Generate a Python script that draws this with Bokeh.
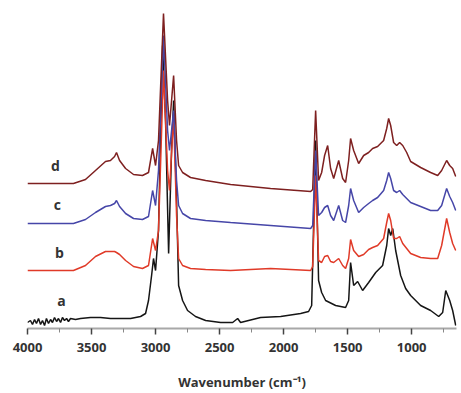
from bokeh.plotting import figure
from bokeh.models import FixedTicker, Range1d, Label
from bokeh.embed import file_html
from bokeh.resources import INLINE

# shared wavenumber grid (cm^-1) for spectra b, c, d
wn = [4000, 3820, 3641, 3547, 3469, 3391, 3352, 3320, 3305, 3281,
      3234, 3172, 3102, 3055, 3023, 3000, 2977, 2938, 2906, 2891,
      2859, 2836, 2820, 2789, 2727, 2609, 2414, 2102, 1789, 1773,
      1750, 1727, 1703, 1680, 1656, 1633, 1609, 1570, 1539, 1516,
      1492, 1477, 1453, 1414, 1375, 1336, 1305, 1266, 1219, 1195,
      1180, 1164, 1141, 1117, 1094, 1070, 1039, 1008, 930, 852,
      797, 766, 727, 703, 680, 656]

spec_d = [1.45, 1.45, 1.45, 1.49, 1.58, 1.67, 1.68, 1.72, 1.76, 1.68,
          1.60, 1.54, 1.53, 1.56, 1.80, 1.63, 1.88, 3.15, 2.28, 2.03,
          2.53, 1.88, 1.63, 1.56, 1.51, 1.48, 1.44, 1.40, 1.37, 1.39,
          2.18, 1.48, 1.56, 1.73, 1.83, 1.60, 1.50, 1.68, 1.50, 1.46,
          1.68, 1.90, 1.78, 1.65, 1.73, 1.76, 1.80, 1.82, 1.88, 2.00,
          2.10, 2.03, 1.86, 1.83, 1.86, 1.83, 1.76, 1.67, 1.61, 1.56,
          1.53, 1.58, 1.68, 1.63, 1.60, 1.52]

spec_c = [1.05, 1.05, 1.05, 1.09, 1.16, 1.22, 1.23, 1.25, 1.28, 1.22,
          1.15, 1.10, 1.09, 1.12, 1.38, 1.23, 1.58, 2.93, 1.98, 1.78,
          2.18, 1.48, 1.23, 1.15, 1.10, 1.08, 1.06, 1.03, 1.00, 1.03,
          1.78, 1.13, 1.16, 1.21, 1.23, 1.13, 1.08, 1.23, 1.08, 1.06,
          1.23, 1.40, 1.28, 1.16, 1.21, 1.25, 1.28, 1.31, 1.38, 1.48,
          1.56, 1.50, 1.38, 1.36, 1.38, 1.34, 1.30, 1.26, 1.22, 1.18,
          1.18, 1.23, 1.40, 1.32, 1.26, 1.18]

spec_b = [0.58, 0.58, 0.58, 0.63, 0.72, 0.77, 0.77, 0.77, 0.76, 0.74,
          0.68, 0.62, 0.60, 0.63, 0.90, 0.78, 0.98, 2.58, 1.58, 1.38,
          2.13, 1.13, 0.70, 0.63, 0.60, 0.59, 0.58, 0.60, 0.58, 0.62,
          1.53, 0.68, 0.66, 0.72, 0.73, 0.67, 0.66, 0.70, 0.63, 0.60,
          0.70, 0.89, 0.78, 0.72, 0.74, 0.79, 0.81, 0.83, 0.90, 1.06,
          1.15, 1.08, 0.90, 0.90, 0.92, 0.85, 0.80, 0.75, 0.71, 0.70,
          0.70, 0.83, 1.10, 0.96, 0.85, 0.78]

# spectrum a has its own (denser, noisy) grid
wn_a = [4000, 3977, 3961, 3945, 3930, 3914, 3898, 3883, 3867, 3852,
        3836, 3820, 3805, 3789, 3773, 3758, 3742, 3727, 3711, 3695,
        3680, 3664, 3625, 3586, 3508, 3430, 3352, 3273, 3195, 3117,
        3078, 3055, 3031, 3016, 3000, 2977, 2945, 2922, 2898, 2875,
        2859, 2836, 2820, 2789, 2750, 2688, 2609, 2492, 2398, 2359,
        2336, 2180, 2023, 1867, 1805, 1781, 1750, 1727, 1703, 1672,
        1594, 1516, 1492, 1477, 1453, 1422, 1383, 1336, 1281, 1227,
        1195, 1180, 1164, 1148, 1125, 1086, 1047, 1008, 930, 852,
        789, 758, 734, 703, 680, 656]

spec_a = [0.06, 0.08, 0.04, 0.09, 0.05, 0.10, 0.04, 0.08, 0.03, 0.10,
          0.05, 0.09, 0.06, 0.11, 0.07, 0.10, 0.06, 0.11, 0.08, 0.10,
          0.07, 0.10, 0.09, 0.10, 0.11, 0.11, 0.10, 0.10, 0.10, 0.12,
          0.15, 0.28, 0.53, 0.70, 0.58, 0.98, 2.83, 2.08, 0.75, 1.78,
          2.28, 1.28, 0.43, 0.28, 0.18, 0.12, 0.08, 0.06, 0.06, 0.10,
          0.06, 0.11, 0.12, 0.15, 0.17, 0.23, 1.88, 0.48, 0.36, 0.28,
          0.23, 0.21, 0.28, 0.66, 0.43, 0.47, 0.38, 0.46, 0.56, 0.63,
          0.83, 1.00, 0.93, 1.00, 0.78, 0.53, 0.40, 0.33, 0.23, 0.18,
          0.12, 0.16, 0.38, 0.28, 0.18, 0.03]

major_ticks = [4000, 3500, 3000, 2500, 2000, 1500, 1000]
minor_ticks = [3750, 3250, 2750, 2250, 1750, 1250, 750]
tick_labels = {t: str(t) for t in major_ticks}
series_labels = ["a", "b", "c", "d"]

p = figure(frame_width=429, frame_height=320, output_backend="svg",
           toolbar_location=None, x_range=Range1d(4000, 650),
           y_range=Range1d(0, 3.2), min_border_left=27, min_border_right=2,
           min_border_top=8, min_border_bottom=58)
p.outline_line_color = None
p.xgrid.visible = False
p.ygrid.visible = False
p.yaxis.visible = False

p.line(wn_a, spec_a, line_color="#151515", line_width=1.5)
p.line(wn, spec_b, line_color="#e03a28", line_width=1.5)
p.line(wn, spec_c, line_color="#4646a8", line_width=1.5)
p.line(wn, spec_d, line_color="#7e2020", line_width=1.5)

ax = p.xaxis[0]
ax.ticker = FixedTicker(ticks=major_ticks, minor_ticks=minor_ticks)
ax.major_label_overrides = tick_labels
ax.axis_line_color = "#a8a8a8"
ax.axis_line_width = 2
ax.major_tick_line_color = "#444444"
ax.major_tick_line_width = 1.5
ax.major_tick_in = 0
ax.major_tick_out = 6
ax.minor_tick_line_color = "#888888"
ax.minor_tick_in = 0
ax.minor_tick_out = 4
ax.major_label_text_font = "Open Sans"
ax.major_label_text_font_style = "bold"
ax.major_label_text_font_size = "13px"
ax.major_label_text_color = "#333333"
ax.major_label_standoff = 8
ax.axis_label = "Wavenumber (cm\u207b\u00b9)"
ax.axis_label_text_font = "Open Sans"
ax.axis_label_text_font_style = "bold"
ax.axis_label_text_font_size = "13px"
ax.axis_label_text_color = "#333333"
ax.axis_label_standoff = 18

label_pos = [(3734, 0.28), (3750, 0.76), (3766, 1.24), (3781, 1.63)]
for txt, (lx, ly) in zip(series_labels, label_pos):
    p.add_layout(Label(x=lx, y=ly, text=txt, text_font="Open Sans",
                       text_font_style="bold", text_font_size="14px",
                       text_color="#333333", text_align="center",
                       text_baseline="middle"))

open("out.html", "w").write(file_html(p, INLINE))
